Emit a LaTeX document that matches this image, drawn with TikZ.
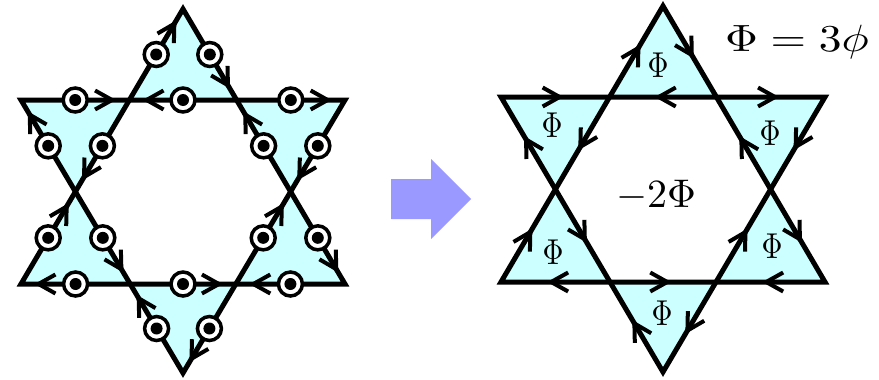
\documentclass[tikz,border=0pt]{standalone}
\usepackage{graphicx}
\usetikzlibrary{decorations.markings}
\definecolor{cyanfill}{RGB}{204,255,255}
\definecolor{arrowblue}{RGB}{153,153,255}
\tikzset{
  edge/.style={draw=black, line width=5pt, line join=miter, miter limit=10},
  chev/.style={draw=black, line width=4pt, line cap=butt, line join=miter},
  arr/.style={postaction={decorate},
    decoration={markings, mark=at position #1 with {\draw[chev] (-17pt,9.5pt) -- (0pt,0pt) -- (-17pt,-9.5pt);}}},
  dotcirc/.style={circle, draw=black, line width=3.5pt, fill=white, minimum size=24pt, inner sep=0pt,
    path picture={\fill[black] (path picture bounding box.center) circle (6pt);}},
  philabel/.style={inner sep=0pt, anchor=center}
}
% prefix, cx, top y, upper line y, lower line y, bottom y
\newcommand\mkstar[6]{%
  \coordinate (#1T) at (#2,#3);
  \coordinate (#1BL) at (#2-162,#5);
  \coordinate (#1BR) at (#2+162,#5);
  \coordinate (#1TL) at (#2-162,#4);
  \coordinate (#1TR) at (#2+162,#4);
  \coordinate (#1B) at (#2,#6);
  \coordinate (#1P1) at (intersection of #1T--#1BL and #1TL--#1TR);
  \coordinate (#1P2) at (intersection of #1T--#1BR and #1TL--#1TR);
  \coordinate (#1P3) at (intersection of #1T--#1BR and #1TR--#1B);
  \coordinate (#1P4) at (intersection of #1BL--#1BR and #1TR--#1B);
  \coordinate (#1P5) at (intersection of #1BL--#1BR and #1TL--#1B);
  \coordinate (#1P6) at (intersection of #1T--#1BL and #1TL--#1B);
  \fill[cyanfill] (#1T) -- (#1BR) -- (#1BL) -- cycle;
  \fill[cyanfill] (#1TL) -- (#1TR) -- (#1B) -- cycle;
  \fill[white] (#1P1) -- (#1P2) -- (#1P3) -- (#1P4) -- (#1P5) -- (#1P6) -- cycle;
  \draw[edge] (#1T) -- (#1BR) -- (#1BL) -- cycle;
  \draw[edge] (#1TL) -- (#1TR) -- (#1B) -- cycle;
}
\begin{document}
\begin{tikzpicture}[x=1pt, y=-1pt]
\useasboundingbox (0,0) rectangle (879,380);
% left star
\mkstar{L}{183}{9}{100}{284}{373}
\foreach \a/\b in {T/P2, P2/P1, P1/T, TL/P1, P1/P6, P6/TL, P2/TR, TR/P3, P3/P2,
                   P3/BR, BR/P4, P4/P3, P5/P4, P4/B, B/P5, P6/P5, P5/BL, BL/P6}
  \path[arr=0.84] (L\a) -- (L\b);
\foreach \a/\b in {T/P2, P2/P1, P1/T, TL/P1, P1/P6, P6/TL, P2/TR, TR/P3, P3/P2,
                   P3/BR, BR/P4, P4/P3, P5/P4, P4/B, B/P5, P6/P5, P5/BL, BL/P6}
  \path (L\a) -- node[dotcirc] {} (L\b);
% right star
\mkstar{R}{663}{6}{97}{282}{372}
\foreach \a/\b in {T/P2, P2/P1, P1/T, TL/P1, P1/P6, P6/TL, P2/TR, TR/P3, P3/P2,
                   P3/BR, BR/P4, P4/P3, P5/P4, P4/B, B/P5, P6/P5, P5/BL, BL/P6}
  \path[arr=0.54] (R\a) -- (R\b);
\node[philabel] (phT) at (658,65) {\scalebox{2.9}[3.6]{$\Phi$}};
\node[philabel] (phUL) at (552,125) {\scalebox{2.9}[3.6]{$\Phi$}};
\node[philabel] (phUR) at (770,133) {\scalebox{2.9}[3.6]{$\Phi$}};
\node[philabel] (phLL) at (553,252) {\scalebox{2.9}[3.6]{$\Phi$}};
\node[philabel] (phLR) at (772,246) {\scalebox{2.9}[3.6]{$\Phi$}};
\node[philabel] (phB) at (662,313) {\scalebox{2.9}[3.6]{$\Phi$}};
\node[inner sep=0pt, anchor=base] (mid) at (656,207) {\scalebox{4}{$-2\Phi$}};
\node[inner sep=0pt, anchor=base] (eq) at (797,51) {\scalebox{4.56}[3.8]{$\Phi = 3\phi$}};
% big arrow
\fill[arrowblue] (391,179) -- (431,179) -- (431,159) -- (471,199) -- (431,239) -- (431,219) -- (391,219) -- cycle;
\end{tikzpicture}
\end{document}
